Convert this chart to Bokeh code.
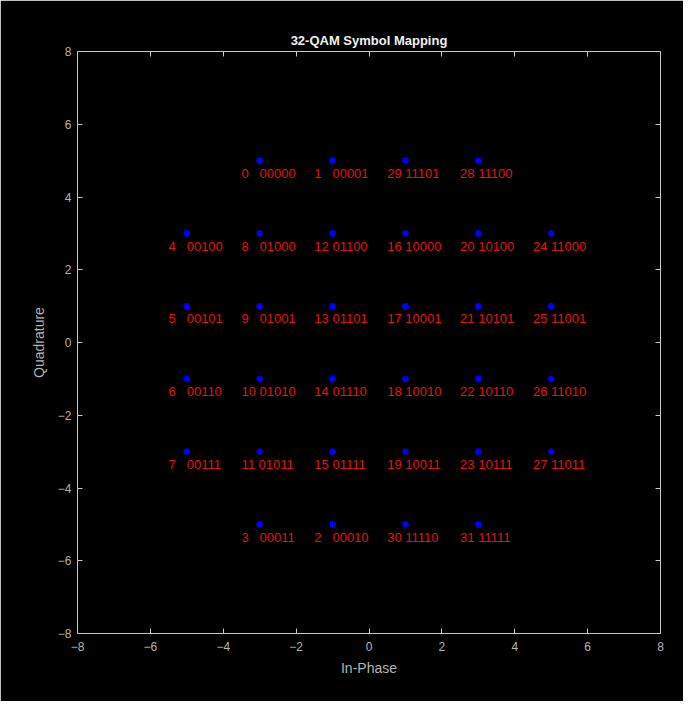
from bokeh.plotting import figure
from bokeh.models import LinearAxis, FixedTicker, Range1d, ColumnDataSource
from bokeh.transform import dodge
from bokeh.core.properties import value
from bokeh.embed import file_html
from bokeh.resources import INLINE

# Constellation points (In-Phase, Quadrature), symbol index and bit labels
in_phase = [-3, -1, 1, 3,
            -5, -3, -1, 1, 3, 5,
            -5, -3, -1, 1, 3, 5,
            -5, -3, -1, 1, 3, 5,
            -5, -3, -1, 1, 3, 5,
            -3, -1, 1, 3]
quadrature = [5, 5, 5, 5,
              3, 3, 3, 3, 3, 3,
              1, 1, 1, 1, 1, 1,
              -1, -1, -1, -1, -1, -1,
              -3, -3, -3, -3, -3, -3,
              -5, -5, -5, -5]
symbols = [0, 1, 29, 28,
           4, 8, 12, 16, 20, 24,
           5, 9, 13, 17, 21, 25,
           6, 10, 14, 18, 22, 26,
           7, 11, 15, 19, 23, 27,
           3, 2, 30, 31]
bits = ["00000", "00001", "11101", "11100",
        "00100", "01000", "01100", "10000", "10100", "11000",
        "00101", "01001", "01101", "10001", "10101", "11001",
        "00110", "01010", "01110", "10010", "10110", "11010",
        "00111", "01011", "01111", "10011", "10111", "11011",
        "00011", "00010", "11110", "11111"]
ticks = [-8, -6, -4, -2, 0, 2, 4, 6, 8]

labels = []
for s, b in zip(symbols, bits):
    if s < 10:
        labels.append(f"{s}\u2007\u00a0{b}")
    else:
        labels.append(f"{s} {b}")

src = ColumnDataSource(dict(x=in_phase, y=quadrature, label=labels))

FONT = "Liberation Sans"
AX = "#c8c8c8"
TXT = "#b4b4b4"

p = figure(width=683, height=701,
           x_range=Range1d(-8, 8), y_range=Range1d(-8, 8),
           output_backend="svg", toolbar_location=None,
           min_border_left=77, min_border_right=23,
           min_border_top=51, min_border_bottom=68,
           background_fill_color="black", border_fill_color="black",
           outline_line_color=None)

p.title.text = "32-QAM Symbol Mapping"
p.title.align = "center"
p.title.text_color = "#f0f0f0"
p.title.text_font = FONT
p.title.text_font_size = "13px"
p.title.text_font_style = "bold"
p.title.standoff = 7

p.grid.visible = False

top_axis = LinearAxis()
right_axis = LinearAxis()
p.add_layout(top_axis, "above")
p.add_layout(right_axis, "right")

for ax in p.axis:
    ax.ticker = FixedTicker(ticks=ticks)
    ax.axis_line_color = AX
    ax.major_tick_line_color = AX
    ax.major_tick_in = 5
    ax.major_tick_out = 0
    ax.minor_tick_line_color = None
    ax.major_label_text_color = TXT
    ax.major_label_text_font = FONT
    ax.major_label_text_font_size = "12px"
    ax.axis_label_text_color = TXT
    ax.axis_label_text_font = FONT
    ax.axis_label_text_font_size = "14px"
    ax.axis_label_text_font_style = "normal"

for ax in (top_axis, right_axis):
    ax.major_label_overrides = {t: "" for t in ticks}
    ax.major_label_standoff = 0

p.below[0].axis_label = "In-Phase"
p.left[0].axis_label = "Quadrature"
p.below[0].major_label_standoff = 8
p.left[0].major_label_standoff = 6
p.below[0].axis_label_standoff = 6
p.left[0].axis_label_standoff = 8

p.scatter(x="x", y="y", source=src, marker="asterisk", size=7,
          line_color="blue", line_width=1.6)

p.text(x=dodge("x", -0.5, range=p.x_range), y=dodge("y", -0.35, range=p.y_range),
       text="label", source=src, text_color="#e01515",
       text_font=value(FONT), text_font_size="13px",
       text_baseline="middle", text_align="left")

open("out.html", "w").write(file_html(p, INLINE))
